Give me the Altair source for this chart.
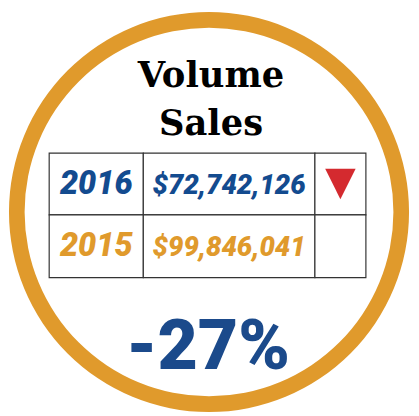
import altair as alt
import pandas as pd

# ---- data ----
title_lines = ["Volume", "Sales"]
years = ["2016", "2015"]
sales = [72742126, 99846041]
year_colors = ["#134b8f", "#e09a2c"]

change = (sales[0] - sales[1]) / sales[1]
change_label = f"{change:+.0%}".replace("+", "")

# ---- layout (page pixel coordinates) ----
W, H = 411, 408
OX, OY = 8, 8
ORANGE = "#e09a2c"
BLUE = "#1b4a8b"
RED = "#d42a2f"
CX, CY = 213, 212
R_OUT, R_IN = 204, 188
COL_EDGES = [50, 146, 321, 373]
ROW_EDGES = [152, 215, 279]
TITLE_X = 215
TITLE_BASE = [85, 133]
PCT_X, PCT_BASE = 212, 372

xs = alt.Scale(domain=[OX, OX + W], range=[0, W])
ys = alt.Scale(domain=[OY, OY + H], range=[0, H])


def X(f):
    return alt.X(f, type="quantitative", scale=xs, axis=None)


def Y(f):
    return alt.Y(f, type="quantitative", scale=ys, axis=None)


ring = alt.Chart(pd.DataFrame({"cx": [CX], "cy": [CY]})).mark_arc(
    radius=R_OUT, radius2=R_IN, theta=0, theta2=6.2832, color=ORANGE
).encode(x=X("cx"), y=Y("cy"))

title = alt.Chart(
    pd.DataFrame({"t": title_lines, "x": [TITLE_X] * 2, "y": TITLE_BASE})
).mark_text(
    font="DejaVu Serif", fontWeight="bold", fontSize=36, color="#000000",
    align="center", baseline="alphabetic"
).encode(x=X("x"), y=Y("y"), text="t:N")

cells = []
for r in range(2):
    for c in range(3):
        cells.append({"x": COL_EDGES[c], "x2": COL_EDGES[c + 1],
                      "y": ROW_EDGES[r], "y2": ROW_EDGES[r + 1]})
grid = alt.Chart(pd.DataFrame(cells)).mark_rect(
    fill="white", stroke="#333333", strokeWidth=1.2
).encode(x=X("x"), x2="x2", y=Y("y"), y2="y2")

rows = pd.DataFrame({
    "year": years,
    "sales": sales,
    "yc": [(ROW_EDGES[i] + ROW_EDGES[i + 1]) / 2 + 10 for i in range(2)],
    "ym": [(ROW_EDGES[i] + ROW_EDGES[i + 1]) / 2 for i in range(2)],
    "x1": [(COL_EDGES[0] + COL_EDGES[1]) / 2] * 2,
    "x2c": [(COL_EDGES[1] + COL_EDGES[2]) / 2] * 2,
    "x3": [(COL_EDGES[2] + COL_EDGES[3]) / 2] * 2,
})
color = alt.Color("year:N", scale=alt.Scale(domain=years, range=year_colors), legend=None)

year_text = alt.Chart(rows).mark_text(
    font="Roboto", fontWeight=900, fontStyle="italic", fontSize=33,
    align="center", baseline="alphabetic"
).encode(x=X("x1"), y=Y("yc"), text="year:N", color=color)

value_text = alt.Chart(rows).mark_text(
    font="Roboto", fontWeight=900, fontStyle="italic", fontSize=28,
    align="center", baseline="alphabetic"
).encode(x=X("x2c"), y=Y("yc"), text=alt.Text("sales:Q", format="$,.0f"), color=color)

tri = alt.Chart(rows.iloc[[0]]).mark_point(
    shape="M-1,-1L1,-1L0,1Z", size=961, filled=True, fill=RED, opacity=1, strokeWidth=0
).encode(x=X("x3"), y=Y("ym"))

pct = alt.Chart(pd.DataFrame({"t": [change_label], "x": [PCT_X], "y": [PCT_BASE]})).mark_text(
    font="Roboto", fontWeight=900, fontSize=71, color=BLUE,
    align="center", baseline="alphabetic"
).encode(x=X("x"), y=Y("y"), text="t:N")

chart = alt.layer(ring, title, grid, year_text, value_text, tri, pct).properties(
    width=W, height=H, padding=0, autosize="none", background="white"
).configure_view(stroke=None)

chart.save("out.html", embed_options={"renderer": "svg", "actions": False})
